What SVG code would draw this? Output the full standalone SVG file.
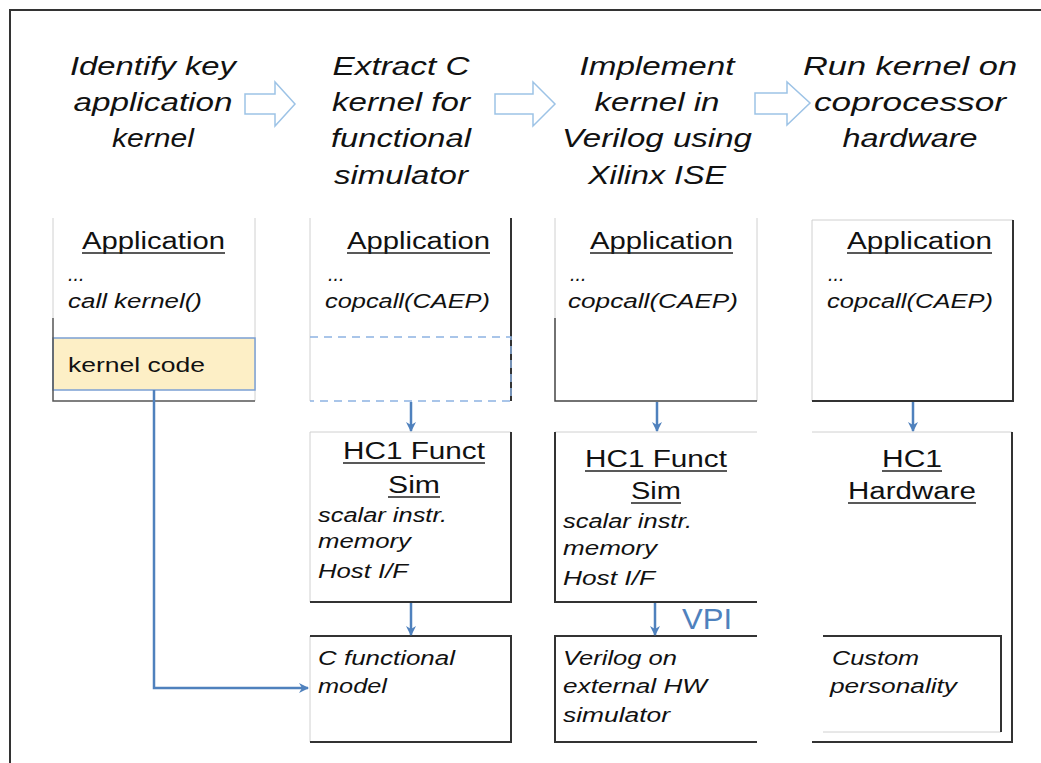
<svg xmlns="http://www.w3.org/2000/svg" width="1041" height="763" viewBox="0 0 1041 763">
<style>
text{font-family:"Liberation Sans",Arial,sans-serif;fill:#111}
.hd{font-size:25px;font-style:italic;text-anchor:middle}
.tt{font-size:23px}
.it{font-size:20px;font-style:italic}
.rg{font-size:21px}
.dk{stroke:#333;stroke-width:2;fill:none}
.lt{stroke:#d0d0d0;stroke-width:1;fill:none}
.ul{stroke:#222;stroke-width:1.5}
.blk{fill:#fff;stroke:#9dc3e6;stroke-width:1.5}
.cn{stroke:#4f81bd;stroke-width:2.5;fill:none}
</style>
<defs>
<marker id="ah" viewBox="0 0 10 10" refX="9" refY="5" markerWidth="4" markerHeight="4" orient="auto" markerUnits="strokeWidth">
<path d="M0,0 L10,5 L0,10 L3,5 Z" fill="#4f81bd"/>
</marker>
</defs>
<rect width="1041" height="763" fill="#fff"/>
<g id="frame">
<path d="M10,763 L10,10 L1041,10" stroke="#333" stroke-width="2" fill="none"/>
</g>
<g id="headers">
<text class="hd" x="153" y="75" textLength="166" lengthAdjust="spacingAndGlyphs">Identify key</text>
<text class="hd" x="153" y="111" textLength="159" lengthAdjust="spacingAndGlyphs">application</text>
<text class="hd" x="153" y="147" textLength="82" lengthAdjust="spacingAndGlyphs">kernel</text>
<text class="hd" x="401" y="75" textLength="137" lengthAdjust="spacingAndGlyphs">Extract C</text>
<text class="hd" x="401" y="111" textLength="138" lengthAdjust="spacingAndGlyphs">kernel for</text>
<text class="hd" x="401" y="147" textLength="140" lengthAdjust="spacingAndGlyphs">functional</text>
<text class="hd" x="401" y="184" textLength="134" lengthAdjust="spacingAndGlyphs">simulator</text>
<text class="hd" x="657" y="75" textLength="155" lengthAdjust="spacingAndGlyphs">Implement</text>
<text class="hd" x="657" y="111" textLength="125" lengthAdjust="spacingAndGlyphs">kernel in</text>
<text class="hd" x="657" y="147" textLength="190" lengthAdjust="spacingAndGlyphs">Verilog using</text>
<text class="hd" x="657" y="184" textLength="138" lengthAdjust="spacingAndGlyphs">Xilinx ISE</text>
<text class="hd" x="910" y="75" textLength="214" lengthAdjust="spacingAndGlyphs">Run kernel on</text>
<text class="hd" x="910" y="111" textLength="192" lengthAdjust="spacingAndGlyphs">coprocessor</text>
<text class="hd" x="910" y="147" textLength="135" lengthAdjust="spacingAndGlyphs">hardware</text>
</g>
<g id="step-arrows">
<path class="blk" d="M245,94 L275,94 L275,82 L295,104 L275,126 L275,114 L245,114 Z"/>
<path class="blk" d="M495,94 L533,94 L533,82 L555,104 L533,126 L533,114 L495,114 Z"/>
<path class="blk" d="M755,93 L787,93 L787,82 L810,103 L787,125 L787,114 L755,114 Z"/>
</g>
<g id="app1">
<path class="lt" d="M53,318 L53,218 M255,218 L255,401"/>
<rect x="53" y="338" width="202" height="52" fill="#fdefc6" stroke="#7ba0d4" stroke-width="1.5"/>
<path d="M53,318 L53,401 L255,401" stroke="#555" stroke-width="1.5" fill="none"/>
<text class="tt" x="82" y="249" textLength="143" lengthAdjust="spacingAndGlyphs">Application</text>
<line class="ul" x1="82" y1="253" x2="225" y2="253"/>
<text class="it" x="68" y="281">...</text>
<text class="it" x="68" y="308" textLength="134" lengthAdjust="spacingAndGlyphs">call kernel()</text>
<text class="rg" x="68" y="372" textLength="137" lengthAdjust="spacingAndGlyphs">kernel code</text>
</g>
<g id="app2">
<path class="lt" d="M310,401 L310,218"/>
<path d="M511,218 L511,401" stroke="#333" stroke-width="2"/>
<path d="M310,337 L511,337 L511,401 L310,401" stroke="#8db3e2" stroke-width="1.5" stroke-dasharray="8,6" fill="none"/>
<text class="tt" x="347" y="249" textLength="143" lengthAdjust="spacingAndGlyphs">Application</text>
<line class="ul" x1="347" y1="253" x2="490" y2="253"/>
<text class="it" x="328" y="281">...</text>
<text class="it" x="325" y="308" textLength="165" lengthAdjust="spacingAndGlyphs">copcall(CAEP)</text>
</g>
<g id="app3">
<path class="lt" d="M555,318 L555,218 M757,218 L757,401"/>
<path d="M555,318 L555,401 L757,401" stroke="#444" stroke-width="1.5" fill="none"/>
<text class="tt" x="590" y="249" textLength="143" lengthAdjust="spacingAndGlyphs">Application</text>
<line class="ul" x1="590" y1="253" x2="733" y2="253"/>
<text class="it" x="570" y="281">...</text>
<text class="it" x="568" y="308" textLength="170" lengthAdjust="spacingAndGlyphs">copcall(CAEP)</text>
</g>
<g id="app4">
<path class="lt" d="M812,401 L812,220 L1013,220"/>
<path d="M1013,220 L1013,401 L812,401" stroke="#333" stroke-width="2" fill="none"/>
<text class="tt" x="847" y="249" textLength="145" lengthAdjust="spacingAndGlyphs">Application</text>
<line class="ul" x1="847" y1="253" x2="992" y2="253"/>
<text class="it" x="828" y="281">...</text>
<text class="it" x="827" y="308" textLength="166" lengthAdjust="spacingAndGlyphs">copcall(CAEP)</text>
</g>
<g id="sim2">
<path class="lt" d="M310,602 L310,432 L511,432"/>
<path d="M511,432 L511,602 L310,602" stroke="#333" stroke-width="2" fill="none"/>
<text class="tt" x="343" y="459" textLength="142" lengthAdjust="spacingAndGlyphs">HC1 Funct</text>
<line class="ul" x1="343" y1="463" x2="485" y2="463"/>
<text class="tt" x="388" y="493" textLength="52" lengthAdjust="spacingAndGlyphs">Sim</text>
<line class="ul" x1="388" y1="497" x2="440" y2="497"/>
<text class="it" x="318" y="522" textLength="129" lengthAdjust="spacingAndGlyphs">scalar instr.</text>
<text class="it" x="318" y="548" textLength="93" lengthAdjust="spacingAndGlyphs">memory</text>
<text class="it" x="318" y="578" textLength="90" lengthAdjust="spacingAndGlyphs">Host I/F</text>
</g>
<g id="sim3">
<path class="lt" d="M555,432 L757,432"/>
<path d="M555,432 L555,602 L757,602" stroke="#333" stroke-width="2" fill="none"/>
<text class="tt" x="585" y="467" textLength="142" lengthAdjust="spacingAndGlyphs">HC1 Funct</text>
<line class="ul" x1="585" y1="471" x2="727" y2="471"/>
<text class="tt" x="631" y="499" textLength="50" lengthAdjust="spacingAndGlyphs">Sim</text>
<line class="ul" x1="631" y1="503" x2="681" y2="503"/>
<text class="it" x="563" y="528" textLength="129" lengthAdjust="spacingAndGlyphs">scalar instr.</text>
<text class="it" x="563" y="555" textLength="94" lengthAdjust="spacingAndGlyphs">memory</text>
<text class="it" x="563" y="585" textLength="92" lengthAdjust="spacingAndGlyphs">Host I/F</text>
</g>
<g id="hw4">
<path class="lt" d="M812,432 L1012,432"/>
<path d="M1012,432 L1012,742 L812,742" stroke="#333" stroke-width="2" fill="none"/>
<text class="tt" x="882" y="467" textLength="60" lengthAdjust="spacingAndGlyphs">HC1</text>
<line class="ul" x1="882" y1="471" x2="942" y2="471"/>
<text class="tt" x="848" y="499" textLength="128" lengthAdjust="spacingAndGlyphs">Hardware</text>
<line class="ul" x1="848" y1="503" x2="976" y2="503"/>
</g>
<g id="model2">
<path class="lt" d="M310,636 L310,742"/>
<path d="M310,636 L511,636 L511,742 L310,742" stroke="#333" stroke-width="2" fill="none"/>
<text class="it" x="318" y="665" textLength="137" lengthAdjust="spacingAndGlyphs">C functional</text>
<text class="it" x="318" y="693" textLength="69" lengthAdjust="spacingAndGlyphs">model</text>
</g>
<g id="verilog3">
<path d="M757,636 L555,636 L555,742 L757,742" stroke="#333" stroke-width="2" fill="none"/>
<text class="it" x="563" y="665" textLength="114" lengthAdjust="spacingAndGlyphs">Verilog on</text>
<text class="it" x="563" y="693" textLength="144" lengthAdjust="spacingAndGlyphs">external HW</text>
<text class="it" x="563" y="722" textLength="107" lengthAdjust="spacingAndGlyphs">simulator</text>
</g>
<g id="custom4">
<path class="lt" d="M823,732 L1001,732"/>
<path d="M823,636 L1001,636 L1001,732" stroke="#333" stroke-width="2" fill="none"/>
<text class="it" x="832" y="665" textLength="87" lengthAdjust="spacingAndGlyphs">Custom</text>
<text class="it" x="830" y="693" textLength="127" lengthAdjust="spacingAndGlyphs">personality</text>
</g>
<g id="connectors">
<line class="cn" x1="411" y1="402" x2="411" y2="431" marker-end="url(#ah)"/>
<line class="cn" x1="657" y1="402" x2="657" y2="431" marker-end="url(#ah)"/>
<line class="cn" x1="913" y1="402" x2="913" y2="431" marker-end="url(#ah)"/>
<line class="cn" x1="411" y1="603" x2="411" y2="635" marker-end="url(#ah)"/>
<line class="cn" x1="655" y1="603" x2="655" y2="635" marker-end="url(#ah)"/>
<path class="cn" d="M154,390 L154,688 L308,688" stroke-width="3" marker-end="url(#ah)"/>
<text x="682" y="629" font-size="30" fill="#4f81bd" style="fill:#4f81bd" textLength="50" lengthAdjust="spacingAndGlyphs">VPI</text>
</g>
</svg>
